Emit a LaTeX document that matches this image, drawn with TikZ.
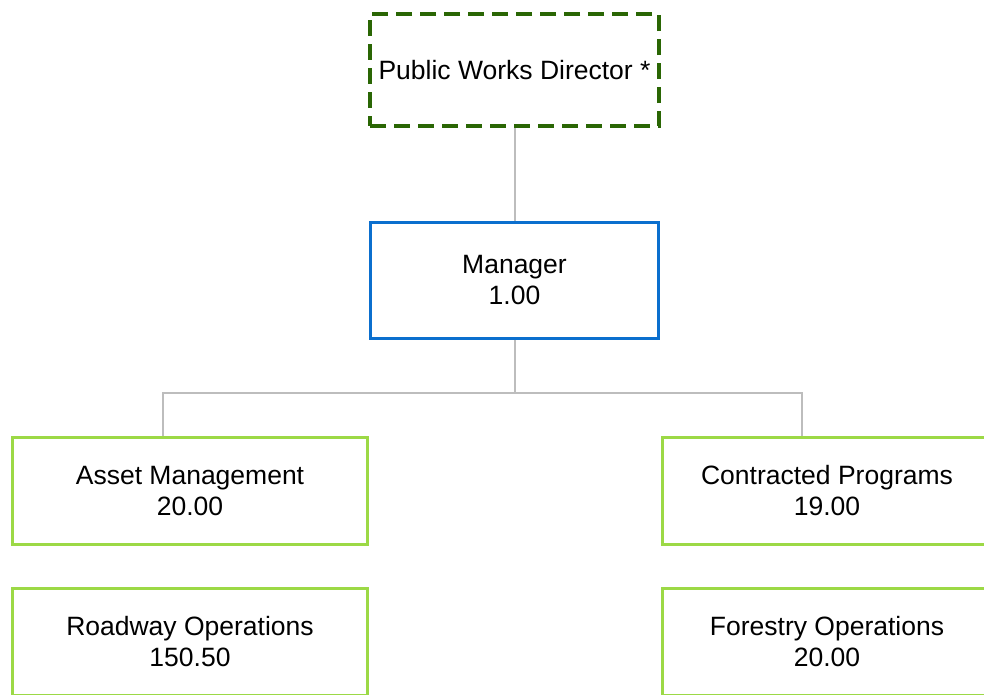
\documentclass[tikz,border=0pt]{standalone}
\usepackage{fontspec}
\setmainfont{Liberation Sans}
\definecolor{dirgreen}{HTML}{2A6604}
\definecolor{mgrblue}{HTML}{0B6FCE}
\definecolor{unitgreen}{HTML}{9CD946}
\definecolor{conngray}{HTML}{BDBDBD}
\tikzset{
  box/.style={draw, rectangle, fill=white, align=center, inner sep=0pt,
    font=\fontsize{26.5}{31}\selectfont, text=black},
  dirbox/.style={box, draw=dirgreen, line width=4pt, dash pattern=on 16pt off 8pt,
    minimum width=289pt, minimum height=112pt},
  mgrbox/.style={box, draw=mgrblue, line width=3.6pt, minimum width=288pt, minimum height=116pt},
  unitbox/.style={box, draw=unitgreen, line width=3.8pt, minimum height=107pt},
  conn/.style={draw=conngray, line width=2pt}
}
\begin{document}
\begin{tikzpicture}[x=1pt, y=-1pt]
\useasboundingbox (0,0) rectangle (984,694);
\clip (0,0) rectangle (984,694);
\node[dirbox] (dir) at (514.5,70) {Public Works Director *};
\node[mgrbox] (mgr) at (514.5,280.5) {\raisebox{-2pt}{Manager}\\\raisebox{-2pt}{1.00}};
\node[unitbox, minimum width=355pt] (asset) at (190,491) {\raisebox{-2pt}{Asset Management}\\\raisebox{-2pt}{20.00}};
\node[unitbox, minimum width=329pt] (contr) at (827,491) {\raisebox{-2pt}{Contracted Programs}\\\raisebox{-2pt}{19.00}};
\node[unitbox, minimum width=355pt] (road) at (190,642) {\raisebox{-2pt}{Roadway Operations}\\\raisebox{-2pt}{150.50}};
\node[unitbox, minimum width=329pt] (forest) at (827,642) {\raisebox{-2pt}{Forestry Operations}\\\raisebox{-2pt}{20.00}};
\coordinate (jL) at (163,393);
\coordinate (jR) at (802,393);
\draw[conn] (dir.south) -- (mgr.north);
\draw[conn] (mgr.south) |- (jL) -- (jL |- asset.north);
\draw[conn] (mgr.south) |- (jR) -- (jR |- contr.north);
\end{tikzpicture}
\end{document}
